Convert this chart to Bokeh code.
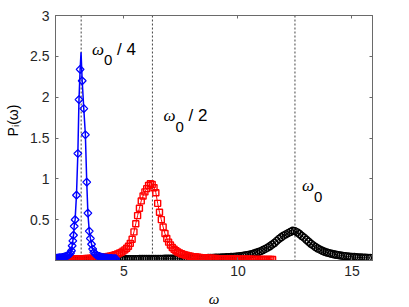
import numpy as np
from bokeh.plotting import figure
from bokeh.models import Range1d, FixedTicker, LinearAxis, Span, Label
from bokeh.embed import file_html
from bokeh.resources import INLINE

# ---------------- data ----------------
omega0 = 12.5
x_ticks = [5, 10, 15]
y_ticks = [0.5, 1, 1.5, 2, 2.5, 3]

# blue: diamonds, around omega0/4
blue_w = [2.00, 2.06, 2.12, 2.18, 2.24, 2.30, 2.36, 2.42, 2.48, 2.54,
          2.60, 2.66, 2.70, 2.73, 2.76, 2.79, 2.82, 2.86, 2.92, 2.98,
          3.03, 3.08, 3.12, 3.17, 3.24, 3.31, 3.37, 3.42, 3.48, 3.53,
          3.58, 3.63, 3.68, 3.74, 3.80, 3.86, 3.92, 3.98, 4.04, 4.10,
          4.16, 4.22, 4.28, 4.34, 4.40, 4.46, 4.52, 4.58, 4.64]
blue_p = [0.030, 0.030, 0.032, 0.034, 0.036, 0.039, 0.043, 0.048, 0.055, 0.063,
          0.075, 0.09, 0.12, 0.18, 0.24, 0.31, 0.42, 0.50, 0.80, 1.31,
          1.97, 2.34, 2.55, 2.20, 1.86, 1.54, 0.96, 0.58, 0.36, 0.27,
          0.20, 0.14, 0.10, 0.08, 0.065, 0.055, 0.05, 0.045, 0.04, 0.036,
          0.033, 0.031, 0.029, 0.027, 0.026, 0.025, 0.024, 0.023, 0.022]

# red: squares, around omega0/2 (sampled from 2.00 in steps of 0.08)
red_start, red_step = 2.0, 0.08
red_p = [0.012, 0.012, 0.013, 0.013, 0.014, 0.014, 0.015, 0.015, 0.016, 0.017,
         0.017, 0.018, 0.019, 0.020, 0.021, 0.022, 0.023, 0.024, 0.025, 0.026,
         0.028, 0.029, 0.031, 0.033, 0.035, 0.037, 0.040, 0.043, 0.046, 0.050,
         0.054, 0.059, 0.065, 0.072, 0.080, 0.090, 0.100, 0.115, 0.130, 0.150,
         0.175, 0.210, 0.260, 0.350, 0.450, 0.550, 0.640, 0.730, 0.790, 0.840,
         0.880, 0.920, 0.940, 0.930, 0.890, 0.830, 0.700, 0.590, 0.500, 0.410,
         0.330, 0.270, 0.225, 0.190, 0.160, 0.138, 0.120, 0.105, 0.093, 0.083,
         0.075, 0.068, 0.062, 0.057, 0.052, 0.048, 0.045, 0.042, 0.039, 0.037,
         0.035, 0.033, 0.031, 0.030, 0.028, 0.027, 0.026, 0.025, 0.024, 0.023,
         0.022, 0.021, 0.021, 0.020, 0.020, 0.019, 0.019, 0.018, 0.018, 0.018,
         0.017, 0.017, 0.016, 0.016, 0.016, 0.015, 0.015, 0.015, 0.014, 0.014,
         0.014, 0.014, 0.013, 0.013, 0.013, 0.013, 0.012, 0.012, 0.012, 0.012]

# black: circles, around omega0 (sampled from 2.0 in steps of 0.1)
black_start, black_step = 2.0, 0.1
black_p = [0.010, 0.010, 0.011, 0.010, 0.011, 0.011, 0.011, 0.012, 0.011, 0.012,
           0.012, 0.012, 0.012, 0.013, 0.012, 0.013, 0.013, 0.013, 0.014, 0.013,
           0.014, 0.014, 0.014, 0.015, 0.014, 0.015, 0.015, 0.015, 0.015, 0.016,
           0.016, 0.016, 0.016, 0.017, 0.017, 0.017, 0.017, 0.018, 0.018, 0.018,
           0.018, 0.019, 0.019, 0.019, 0.019, 0.020, 0.020, 0.020, 0.021, 0.021,
           0.021, 0.021, 0.022, 0.022, 0.022, 0.023, 0.023, 0.024, 0.024, 0.025,
           0.025, 0.026, 0.026, 0.027, 0.028, 0.028, 0.029, 0.030, 0.031, 0.032,
           0.033, 0.034, 0.035, 0.036, 0.037, 0.039, 0.041, 0.043, 0.045, 0.048,
           0.050, 0.053, 0.057, 0.061, 0.066, 0.072, 0.078, 0.086, 0.095, 0.105,
           0.115, 0.128, 0.142, 0.158, 0.175, 0.195, 0.215, 0.240, 0.265, 0.285,
           0.305, 0.320, 0.335, 0.350, 0.365, 0.360, 0.345, 0.325, 0.300, 0.280,
           0.255, 0.230, 0.205, 0.185, 0.165, 0.148, 0.133, 0.120, 0.108, 0.098,
           0.090, 0.083, 0.077, 0.071, 0.066, 0.061, 0.057, 0.053, 0.050, 0.047,
           0.044, 0.042, 0.040, 0.038, 0.036, 0.034, 0.033, 0.032, 0.031]

red_w = np.round(red_start + red_step * np.arange(len(red_p)), 3)
black_w = np.round(black_start + black_step * np.arange(len(black_p)), 3)

x_label = "ω"
y_label = "P\u1d62(ω)"

# ---------------- layout ----------------
X0, X1 = 2.0, 15.9
Y0, Y1 = 0.0, 3.0
FL, FT, FW, FH = 55, 15, 317, 245   # frame position in the picture (px)
AXC = "#6a6a6a"
TXC = "#262626"
SANS = "Liberation Sans"
GREEK = "Liberation Serif"

def px_x(px):
    return X0 + (px - FL) / FW * (X1 - X0)

def py_y(py):
    return Y0 + (FT + FH - py) / FH * (Y1 - Y0)

p = figure(frame_width=FW, frame_height=FH,
           min_border_left=FL, min_border_right=30,
           min_border_top=FT, min_border_bottom=44,
           x_range=Range1d(X0, X1), y_range=Range1d(Y0, Y1),
           output_backend="svg", toolbar_location=None,
           background_fill_color="white", border_fill_color="white")
p.grid.visible = False
p.outline_line_color = AXC
p.outline_line_width = 1

def style_axis(ax, ticks, show_labels):
    ax.ticker = FixedTicker(ticks=ticks)
    ax.axis_line_color = AXC
    ax.major_tick_line_color = AXC
    ax.major_tick_in = 3
    ax.major_tick_out = 0
    ax.minor_tick_in = 0
    ax.minor_tick_out = 0
    ax.minor_tick_line_color = None
    if show_labels:
        ax.major_label_text_font = SANS
        ax.major_label_text_font_size = "14px"
        ax.major_label_text_color = TXC
    else:
        ax.major_label_overrides = {t: "" for t in ticks}
        ax.major_label_text_font_size = "0px"
        ax.major_label_standoff = 0

xa = p.xaxis[0]
style_axis(xa, x_ticks, True)
xa.major_label_standoff = 5
xa.axis_label = x_label
xa.axis_label_text_font = GREEK
xa.axis_label_text_font_style = "italic"
xa.axis_label_text_font_size = "15px"
xa.axis_label_text_color = "black"
xa.axis_label_standoff = 12

ya = p.yaxis[0]
style_axis(ya, y_ticks, True)
ya.major_label_standoff = 6
# leading no-break spaces lift the centred label to where the reference has it
ya.axis_label = "\u00a0" * 9 + y_label
ya.axis_label_text_font = SANS
ya.axis_label_text_font_style = "normal"
ya.axis_label_text_font_size = "14px"
ya.axis_label_text_color = "black"
ya.axis_label_standoff = 6

ax_r = LinearAxis()
style_axis(ax_r, y_ticks, False)
p.add_layout(ax_r, "right")
ax_t = LinearAxis()
style_axis(ax_t, x_ticks, False)
p.add_layout(ax_t, "above")

# dashed reference lines at omega0/4, omega0/2, omega0
for loc in [omega0 / 4, omega0 / 2, omega0]:
    p.add_layout(Span(location=loc, dimension="height", line_color="#444444",
                      line_dash="2 2", line_width=1, level="underlay"))

# black
p.line(black_w, black_p, line_color="black", line_width=1)
p.scatter(black_w, black_p, marker="circle", size=7, line_color="black",
          fill_color=None, line_width=1.4)
# red
p.line(red_w, red_p, line_color="#ff0000", line_width=1)
p.scatter(red_w, red_p, marker="square", size=6, line_color="#ff0000",
          fill_color=None, line_width=1.4)
# blue
bw = np.array(blue_w)
bp = np.array(blue_p)
p.line(bw, bp, line_color="#0000ff", line_width=1.5)
mk = bp < bp.max()
p.scatter(bw[mk], bp[mk], marker="square", angle=np.pi / 4, size=5.5,
          line_color="#0000ff", fill_color=None, line_width=1.3)

def txt(text, px, py, size, font=SANS, style="normal", dx=0, dy=0):
    p.add_layout(Label(x=px_x(px), y=py_y(py), text=text, x_offset=dx, y_offset=dy,
                       text_font=font, text_font_size=f"{size}px",
                       text_font_style=style, text_color="black",
                       text_align="left", text_baseline="alphabetic"))

# peak annotations: omega_0 / 4, omega_0 / 2, omega_0
annots = [("/ 4", 91.5, 48.5), ("/ 2", 163.0, 115.0), ("", 301.5, 185.0)]
for tail, ax_px, ay_px in annots:
    txt("ω", ax_px, ay_px, 17, GREEK, "italic")
    txt("0", ax_px, ay_px, 15, dx=12, dy=-11)
    if tail:
        txt(tail, ax_px, ay_px, 17, dx=25)

open("out.html", "w").write(file_html(p, INLINE))
